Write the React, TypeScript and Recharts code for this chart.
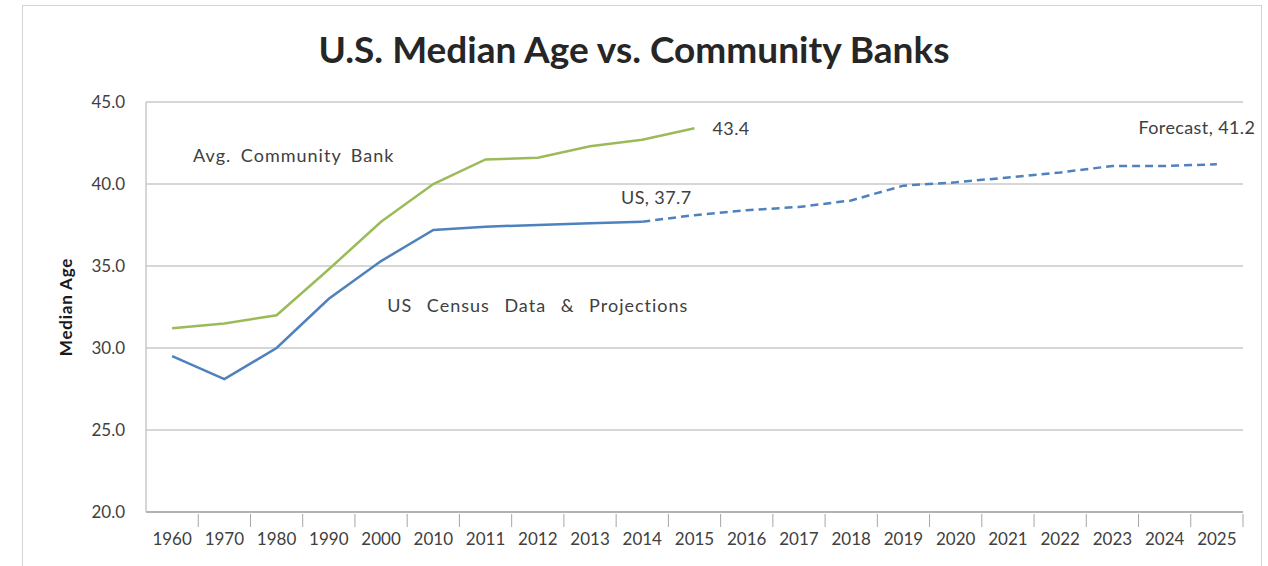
import React from "react";
import { LineChart, Line, XAxis, YAxis, CartesianGrid, ReferenceDot, LabelList } from "recharts";

const years = [
  "1960", "1970", "1980", "1990", "2000", "2010", "2011", "2012", "2013", "2014", "2015",
  "2016", "2017", "2018", "2019", "2020", "2021", "2022", "2023", "2024", "2025",
];

// avg. community bank median age (stops at 2015)
const bankAge = [31.2, 31.5, 32.0, 34.8, 37.7, 40.0, 41.5, 41.6, 42.3, 42.7, 43.4];

// US census actuals up to 2014, projections from 2014 on
const usActual = [29.5, 28.1, 30.0, 33.0, 35.3, 37.2, 37.4, 37.5, 37.6, 37.7];
const usForecast = [37.7, 38.1, 38.4, 38.6, 39.0, 39.9, 40.1, 40.4, 40.7, 41.1, 41.1, 41.2];
const forecastStart = "2014";

const yTicks = [20, 25, 30, 35, 40, 45];

const W = 1268;
const H = 566;
const margin = { top: 102, right: 25, bottom: 14, left: 66 };
const yAxisWidth = 80;
const plotWidth = W - margin.left - yAxisWidth - margin.right;
const band = plotWidth / years.length;

const FONT = "Lato, 'Open Sans', sans-serif";
const TEXT = "#404040";
const GREEN = "#9bbb59";
const BLUE = "#4f81bd";

const startIdx = years.indexOf(forecastStart);
const rows = years.map((year, i) => ({
  year,
  bank: i < bankAge.length ? bankAge[i] : null,
  us: i < usActual.length ? usActual[i] : null,
  forecast: i >= startIdx && i - startIdx < usForecast.length ? usForecast[i - startIdx] : null,
}));

const YearTick = (props: any) => {
  const { x, y, payload } = props;
  return (
    <g>
      <line x1={x + band / 2} x2={x + band / 2} y1={y - 6} y2={y + 7} stroke="#a6a6a6" strokeWidth={1} />
      <text x={x} y={y + 25} textAnchor="middle" fill={TEXT} fontSize={17} fontFamily={FONT}>
        {payload.value}
      </text>
    </g>
  );
};

const pointLabel = (index: number, text: string, dx: number, dy: number, anchor: "start" | "middle") =>
  (props: any) => {
    if (props.index !== index || props.value == null) return null;
    return (
      <text
        x={props.x + dx}
        y={props.y + dy}
        textAnchor={anchor}
        dominantBaseline="middle"
        fill={TEXT}
        fontSize={18}
        letterSpacing={0.4}
        fontFamily={FONT}
      >
        {text}
      </text>
    );
  };

const floatText = (text: string, dx: number, anchor: "start" | "middle", wordGap: number) => (props: any) => {
  const vb = props.viewBox || {};
  const cx = vb.x + (vb.width || 0) / 2;
  const cy = vb.y + (vb.height || 0) / 2;
  return (
    <text
      x={cx + dx}
      y={cy}
      textAnchor={anchor}
      dominantBaseline="middle"
      fill={TEXT}
      fontSize={18}
      letterSpacing={1}
      wordSpacing={wordGap}
      fontFamily={FONT}
    >
      {text}
    </text>
  );
};

export default function App() {
  return (
    <div style={{ position: "fixed", left: 0, top: 0, width: W, height: H, background: "#fff", overflow: "hidden" }}>
      <div
        style={{
          position: "absolute",
          left: 22,
          top: 5,
          width: 1240,
          height: 570,
          border: "1px solid #d4d4d4",
          boxSizing: "border-box",
        }}
      />
      <div
        style={{
          position: "absolute",
          left: 0,
          width: W,
          top: 26,
          textAlign: "center",
          fontFamily: FONT,
          fontWeight: 700,
          fontSize: 37,
          color: "#262626",
        }}
      >
        U.S. Median Age vs. Community Banks
      </div>
      <div style={{ position: "absolute", left: 0, top: 0 }}>
        <LineChart width={W} height={H} data={rows} margin={margin}>
          <CartesianGrid vertical={false} stroke="#c8c8c8" strokeWidth={1.5} />
          <XAxis
            dataKey="year"
            height={40}
            padding={{ left: band / 2, right: band / 2 }}
            axisLine={{ stroke: "#a6a6a6", strokeWidth: 1.5 }}
            tickLine={false}
            tick={<YearTick />}
            interval={0}
          />
          <YAxis
            domain={[20, 45]}
            ticks={yTicks}
            width={yAxisWidth}
            axisLine={{ stroke: "#c8c8c8", strokeWidth: 1.5 }}
            tickLine={false}
            tickSize={0}
            tickMargin={21}
            tickFormatter={(v: number) => v.toFixed(1)}
            tick={{ fill: TEXT, fontSize: 17, fontFamily: FONT }}
            label={{
              value: "Median Age",
              angle: -90,
              position: "insideLeft",
              offset: 0,
              style: {
                textAnchor: "middle",
                fill: "#1a1a1a",
                fontSize: 17,
                fontWeight: 700,
                letterSpacing: 0.8,
                fontFamily: FONT,
              },
            }}
          />
          <Line dataKey="bank" stroke={GREEN} strokeWidth={2.5} dot={false} isAnimationActive={false}>
            <LabelList dataKey="bank" content={pointLabel(bankAge.length - 1, "43.4", 18, 2, "start")} />
          </Line>
          <Line dataKey="us" stroke={BLUE} strokeWidth={2.5} dot={false} isAnimationActive={false}>
            <LabelList dataKey="us" content={pointLabel(usActual.length - 1, "US, 37.7", 14, -22, "middle")} />
          </Line>
          <Line
            dataKey="forecast"
            stroke={BLUE}
            strokeWidth={2.5}
            strokeDasharray="8 5"
            dot={false}
            isAnimationActive={false}
          >
            <LabelList
              dataKey="forecast"
              content={pointLabel(years.length - 1, "Forecast, 41.2", -20, -35, "middle")}
            />
          </Line>
          <ReferenceDot
            x="1960"
            y={41.6}
            r={0}
            fill="none"
            stroke="none"
            label={floatText("Avg. Community Bank", 21, "start", 4)}
          />
          <ReferenceDot
            x="2012"
            y={32.5}
            r={0}
            fill="none"
            stroke="none"
            label={floatText("US Census Data & Projections", 0, "middle", 9)}
          />
        </LineChart>
      </div>
    </div>
  );
}
